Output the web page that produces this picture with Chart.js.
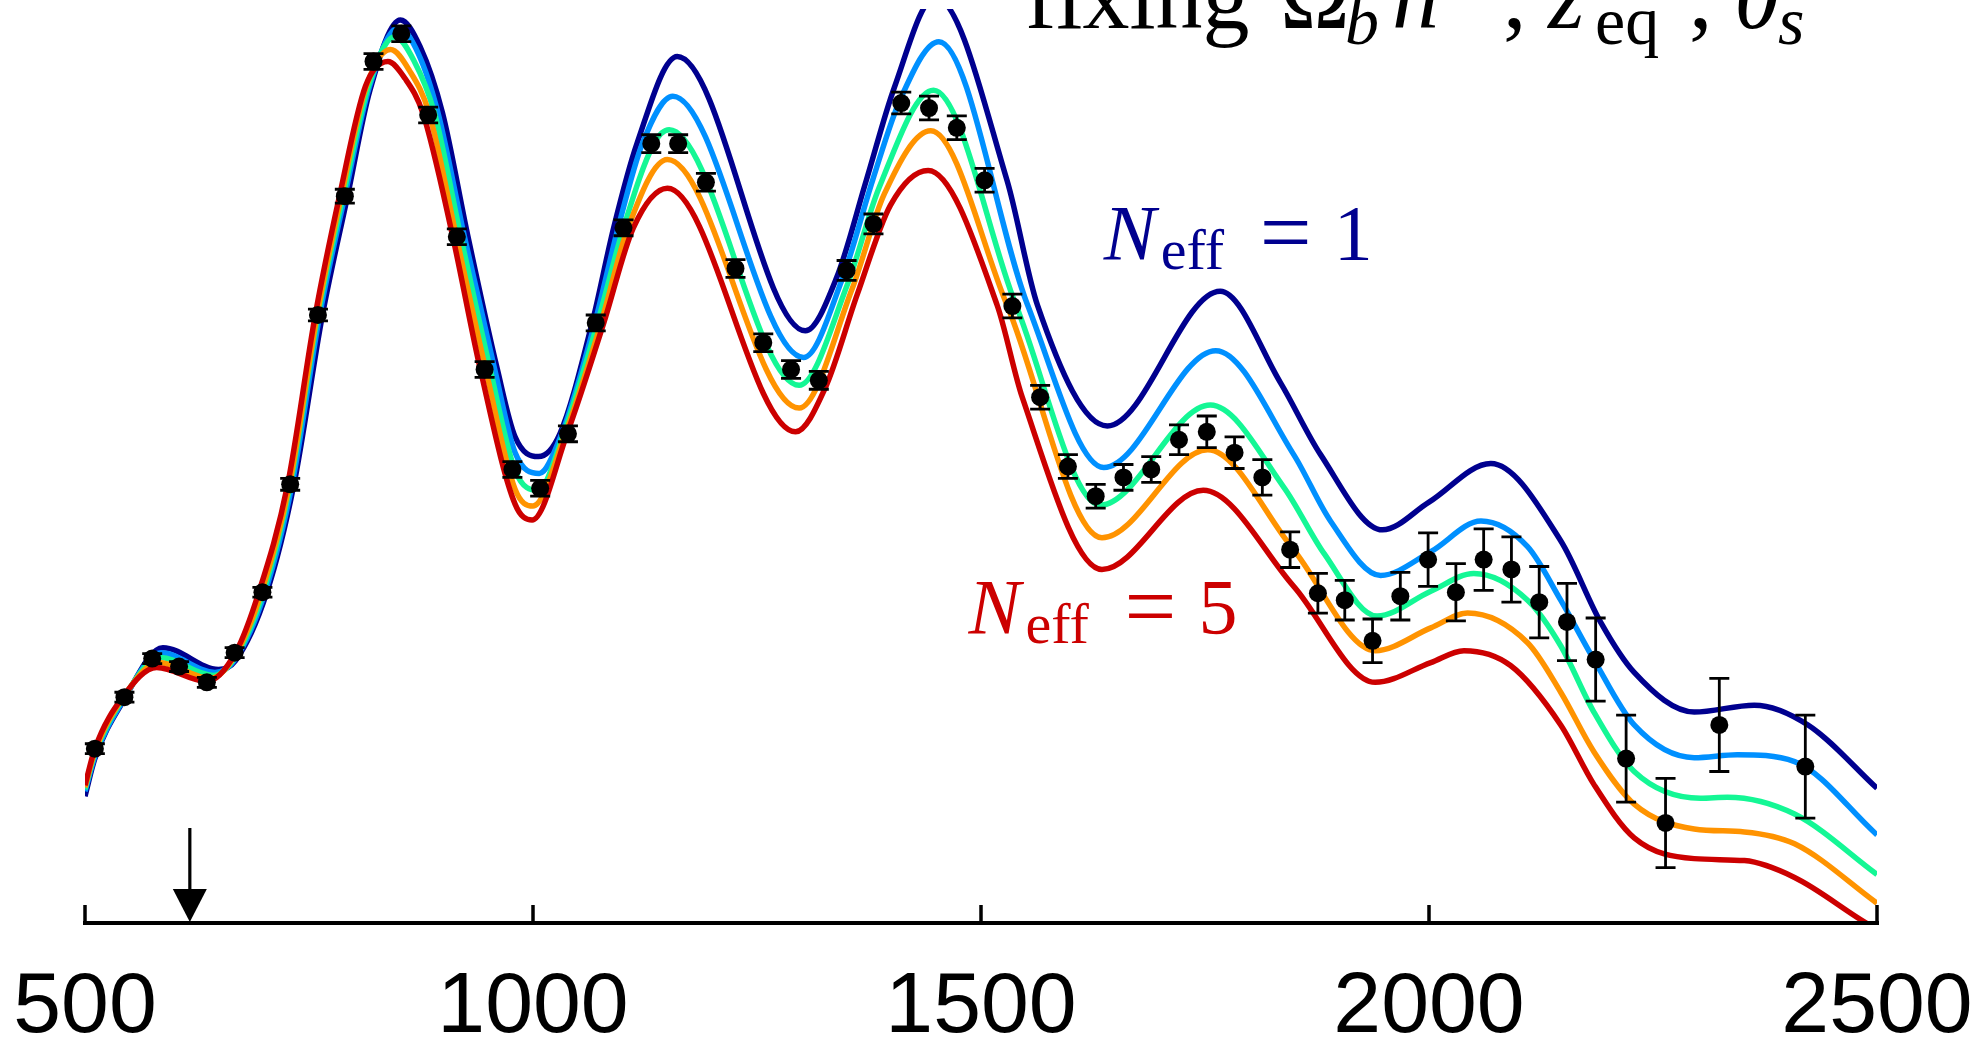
<!DOCTYPE html>
<html>
<head>
<meta charset="utf-8">
<script src="https://cdn.jsdelivr.net/npm/chart.js@4.4.0/dist/chart.umd.min.js"></script>
<style>
  html, body { margin: 0; padding: 0; background: #ffffff; overflow: hidden; }
</style>
</head>
<body>
<canvas id="dampingChart" width="1977" height="1038"></canvas>
<script>
// model spectra, one per N_eff (1 = navy ... 5 = red); multipole and height (arbitrary units)
const navyL = [500, 511, 542, 587, 649, 668, 703, 733, 765, 793, 818, 852, 874, 899, 927, 960, 980, 1006, 1030, 1066,
               1090, 1116, 1161, 1304, 1339, 1372, 1403, 1449, 1529, 1563, 1641, 1767, 1834, 1879, 1948, 2000, 2069, 2147, 2192,
               2229, 2296, 2363, 2423, 2500];
const navyD = [128, 166, 223, 278, 256, 265, 334, 442, 614, 734, 841, 912, 885, 818, 695, 560, 491, 471, 494, 606,
               702, 787, 875, 598, 652, 750, 843, 935, 750, 624, 502, 638, 546, 473, 397, 425, 464, 386, 303,
               253, 213, 220, 200, 136];

const blueL = [500, 511, 542, 585, 645, 668, 701, 731, 762, 790, 817, 850, 872, 894, 923, 957, 980, 1007, 1032, 1069,
               1095, 1122, 1156, 1302, 1345, 1379, 1410, 1453, 1552, 1637, 1762, 1849, 1890, 1946, 2002, 2058, 2110, 2147, 2184,
               2229, 2296, 2344, 2408, 2500];
const blueD = [133, 168, 224, 273, 253, 267, 334, 442, 614, 734, 843, 904, 878, 818, 695, 560, 475, 454, 494, 606,
               702, 787, 835, 571, 650, 750, 832, 890, 624, 460, 578, 473, 406, 351, 375, 406, 380, 326, 266,
               200, 167, 170, 163, 89];

const greenL = [500, 511, 542, 584, 643, 668, 699, 729, 760, 788, 816, 846, 867, 890, 919, 952, 980, 1006, 1034, 1072,
                1101, 1135, 1152, 1297, 1351, 1386, 1447, 1539, 1633, 1756, 1838, 1883, 1942, 2002, 2050, 2110, 2147, 2184, 2229,
                2303, 2333, 2408, 2500];
const greenD = [135, 171, 226, 268, 250, 269, 334, 442, 614, 734, 844, 895, 871, 818, 695, 560, 457, 437, 494, 606,
                702, 787, 801, 543, 645, 742, 841, 624, 422, 523, 440, 373, 310, 335, 353, 326, 280, 213, 153,
                126, 127, 110, 49];

const orangeL = [500, 511, 542, 582, 640, 668, 697, 728, 759, 786, 814, 841, 862, 884, 914, 947, 980, 1000, 1036, 1076,
                 1106, 1150, 1297, 1356, 1392, 1444, 1529, 1635, 1753, 1848, 1940, 2002, 2043, 2110, 2147, 2184, 2229, 2296, 2352,
                 2408, 2500];
const orangeD = [137, 173, 227, 263, 247, 271, 334, 442, 614, 734, 845, 882, 861, 818, 695, 560, 438, 421, 494, 606,
                 702, 771, 520, 640, 736, 800, 624, 389, 478, 378, 275, 298, 313, 283, 233, 173, 120, 95, 92,
                 80, 20];

const redL = [500, 511, 542, 580, 636, 668, 694, 726, 757, 784, 813, 838, 857, 877, 910, 941, 980, 999, 1038, 1079,
              1112, 1150, 1293, 1326, 1362, 1399, 1441, 1518, 1546, 1635, 1748, 1849, 1940, 2002, 2039, 2091, 2147, 2184, 2229,
              2296, 2352, 2408, 2488, 2500];
const redD = [139, 176, 228, 258, 244, 273, 334, 442, 614, 734, 845, 870, 853, 818, 695, 560, 423, 407, 494, 606,
              702, 742, 496, 540, 635, 725, 760, 624, 531, 357, 437, 340, 243, 263, 275, 260, 200, 140, 86,
              65, 63, 46, 0, -6];

// band powers with 1-sigma errors
const dataL = [511, 544, 575, 605, 636, 667, 698, 729, 760, 790, 822, 853, 883, 915, 946, 977, 1008, 1039, 1070, 1101,
               1132, 1162, 1193, 1226, 1257, 1288, 1319, 1350, 1380, 1411, 1442, 1473, 1504, 1535, 1566, 1597, 1628, 1659, 1690, 1721,
               1752, 1783, 1814, 1845, 1876, 1906, 1937, 1968, 1999, 2030, 2061, 2092, 2123, 2154, 2186, 2220, 2264, 2324, 2420];
const dataD = [176, 228, 267, 259, 243, 273, 334, 443, 614, 734, 870, 898, 816, 693, 559, 458, 439, 494, 606, 702,
               787, 787, 748, 661, 586, 559, 548, 659, 706, 828, 823, 803, 750, 623, 531, 461, 431, 450, 458, 488,
               496, 475, 450, 377, 333, 326, 285, 330, 367, 334, 367, 357, 324, 304, 266, 166, 101, 200, 158];
const dataErr = [5, 5, 5, 5, 5, 5, 5, 6, 6, 7, 8, 8, 8, 8, 8, 8, 8, 8, 8, 8,
                 9, 9, 9, 9, 9, 9, 9, 10, 10, 11, 12, 12, 12, 12, 12, 12, 12, 13, 13, 15,
                 16, 16, 18, 18, 20, 20, 22, 24, 27, 29, 31, 33, 36, 39, 42, 44, 45, 47, 52];

const tickVals = [500, 1000, 1500, 2000, 2500];
const arrowL = 617;

function pairs(ls, ds) {
    return ls.map((l, i) => ({ x: l, y: ds[i] }));
}

function curve(label, ls, ds, color) {
    return {
        label: label,
        data: pairs(ls, ds),
        showLine: true,
        borderColor: color,
        borderWidth: 5.5,
        pointRadius: 0,
        fill: false,
        cubicInterpolationMode: 'monotone'
    };
}

function serif(ctx, text, px, py, size, italic, align) {
    ctx.font = (italic ? 'italic ' : '') + size + 'px "Liberation Serif"';
    ctx.textAlign = align || 'left';
    ctx.fillText(text, px, py);
}

// label of the form N_eff = n, anchored at the N
function neffLabel(ctx, px, py, n, color) {
    ctx.fillStyle = color;
    ctx.textBaseline = 'alphabetic';
    serif(ctx, 'N', px, py, 78, true);
    serif(ctx, 'eff', px + 57, py + 10, 58, false);
    serif(ctx, '=', px + 182, py + 4, 92, false, 'center');
    serif(ctx, n, px + 230, py, 78, false);
}

const decorations = {
    id: 'decorations',
    afterDatasetsDraw(chart) {
        const { ctx, scales: { x, y } } = chart;
        ctx.save();
        ctx.strokeStyle = '#000000';
        ctx.lineWidth = 2.8;
        dataL.forEach((l, i) => {
            const px = x.getPixelForValue(l);
            const top = y.getPixelForValue(dataD[i] + dataErr[i]);
            const bot = y.getPixelForValue(dataD[i] - dataErr[i]);
            ctx.beginPath();
            ctx.moveTo(px, top); ctx.lineTo(px, bot);
            ctx.moveTo(px - 10, top); ctx.lineTo(px + 10, top);
            ctx.moveTo(px - 10, bot); ctx.lineTo(px + 10, bot);
            ctx.stroke();
        });
        ctx.restore();
    },
    afterDraw(chart) {
        const { ctx, scales: { x, y } } = chart;
        const base = y.getPixelForValue(0);
        ctx.save();

        // axis line with upward ticks
        ctx.strokeStyle = '#000000';
        ctx.lineWidth = 4;
        ctx.beginPath();
        ctx.moveTo(x.getPixelForValue(500) - 2, base);
        ctx.lineTo(x.getPixelForValue(2500) + 2, base);
        ctx.stroke();
        ctx.lineWidth = 3.5;
        tickVals.forEach(t => {
            const px = x.getPixelForValue(t);
            ctx.beginPath();
            ctx.moveTo(px, base);
            ctx.lineTo(px, base - 18);
            ctx.stroke();
        });

        // tick labels
        ctx.fillStyle = '#000000';
        ctx.font = '86px "Liberation Sans"';
        ctx.textAlign = 'center';
        ctx.textBaseline = 'alphabetic';
        tickVals.forEach(t => ctx.fillText(String(t), x.getPixelForValue(t), base + 109));

        // arrow
        const ax = x.getPixelForValue(arrowL);
        ctx.lineWidth = 3.2;
        ctx.beginPath();
        ctx.moveTo(ax, base - 95);
        ctx.lineTo(ax, base - 30);
        ctx.stroke();
        ctx.beginPath();
        ctx.moveTo(ax - 17, base - 34);
        ctx.lineTo(ax + 17, base - 34);
        ctx.lineTo(ax, base - 1);
        ctx.closePath();
        ctx.fill();

        // title, partly cut by the top edge
        const ty = 28;
        ctx.fillStyle = '#000000';
        serif(ctx, 'fixing', 1025, ty, 94, false);
        serif(ctx, '\u03A9', 1280, ty, 94, false);
        serif(ctx, 'b', 1345, ty + 16, 68, true);
        serif(ctx, 'h', 1392, ty, 94, true);
        serif(ctx, '2', 1445, ty - 36, 66, false);
        serif(ctx, ',', 1503, ty, 94, false);
        serif(ctx, 'z', 1548, ty, 94, true);
        serif(ctx, 'eq', 1595, ty + 16, 68, false);
        serif(ctx, ',', 1689, ty, 94, false);
        serif(ctx, '\u03B8', 1734, ty, 94, true);
        serif(ctx, 's', 1778, ty + 16, 68, true);

        // annotations
        neffLabel(ctx, x.getPixelForValue(1637), y.getPixelForValue(671), '1', '#00008F');
        neffLabel(ctx, x.getPixelForValue(1486), y.getPixelForValue(293), '5', '#CC0000');
        ctx.restore();
    }
};

new Chart(document.getElementById('dampingChart').getContext('2d'), {
    type: 'scatter',
    data: {
        datasets: [
            {
                label: 'data',
                data: pairs(dataL, dataD),
                pointRadius: 9,
                pointBackgroundColor: '#000000',
                pointBorderWidth: 0,
                showLine: false
            },
            curve('N_eff = 5', redL, redD, '#CC0000'),
            curve('N_eff = 4', orangeL, orangeD, '#FF9300'),
            curve('N_eff = 3', greenL, greenD, '#14F795'),
            curve('N_eff = 2', blueL, blueD, '#0090FF'),
            curve('N_eff = 1', navyL, navyD, '#00008F')
        ]
    },
    options: {
        responsive: false,
        devicePixelRatio: 1,
        animation: false,
        layout: { padding: { left: 85, right: 100, top: 0, bottom: 115 } },
        plugins: {
            legend: { display: false },
            tooltip: { enabled: false }
        },
        elements: { line: { capBezierPoints: false } },
        scales: {
            x: { type: 'linear', min: 500, max: 2500, display: false },
            y: { type: 'linear', min: 0, max: 923, display: false }
        }
    },
    plugins: [decorations]
});
</script>
</body>
</html>
